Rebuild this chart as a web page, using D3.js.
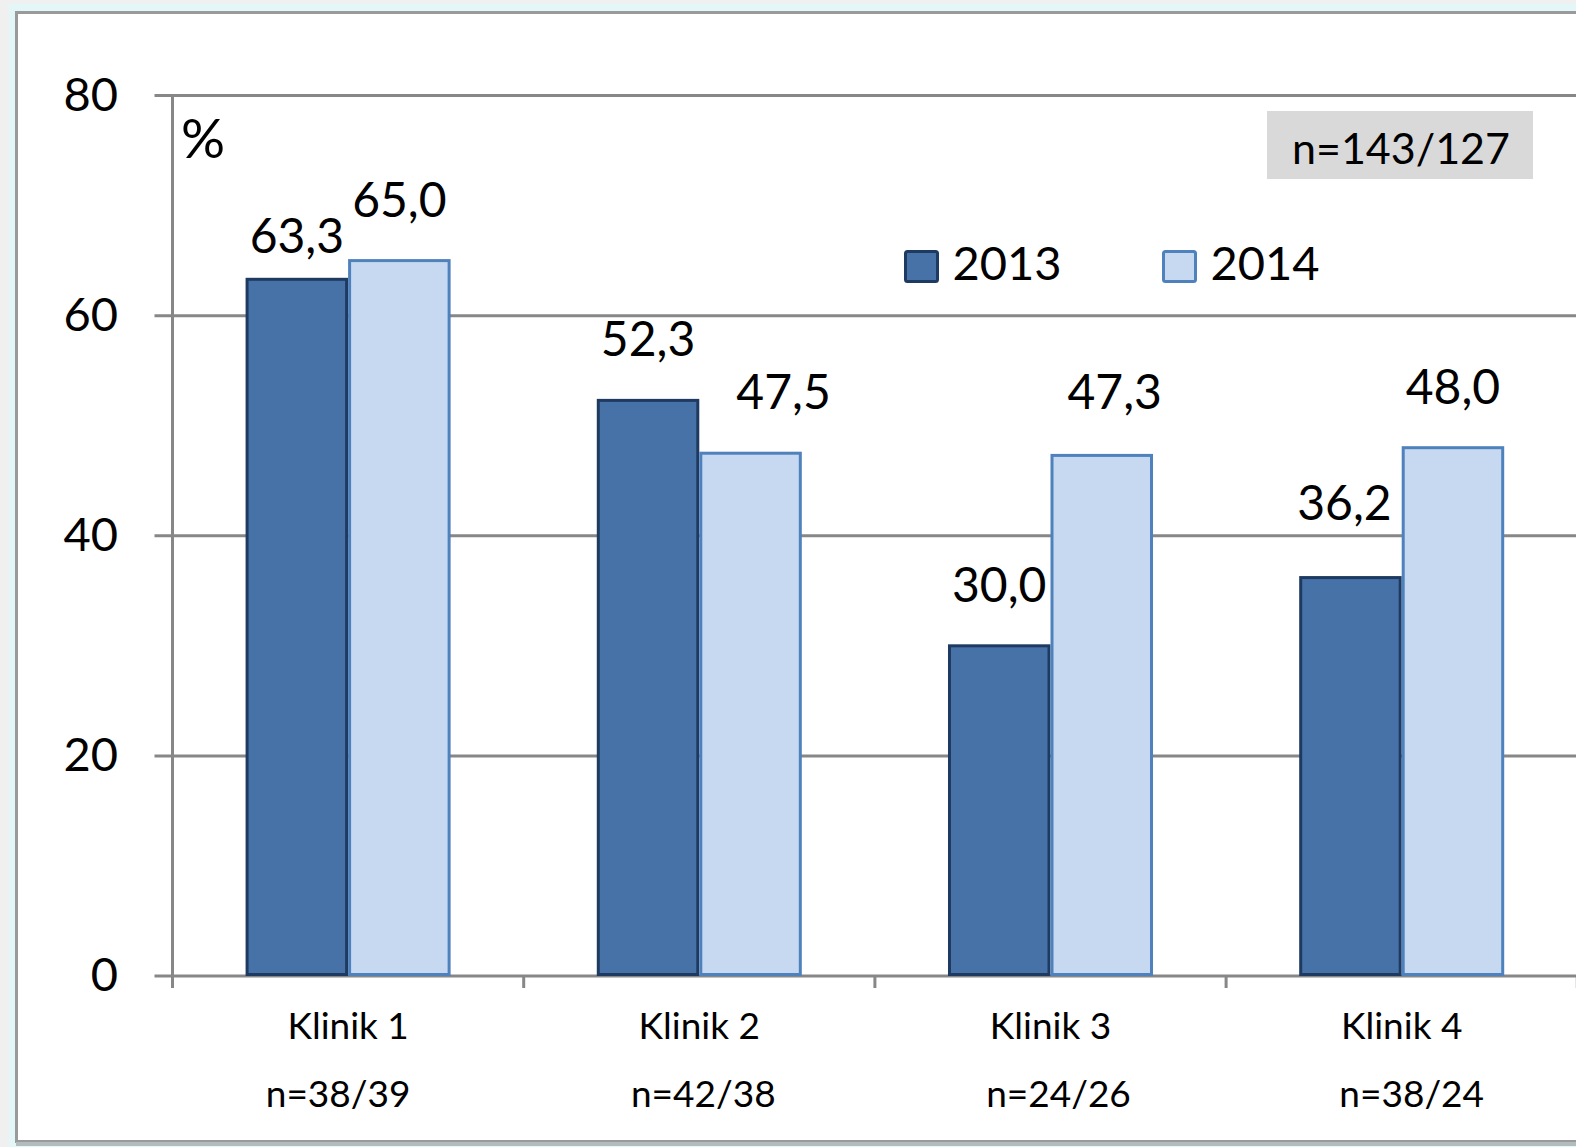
<!DOCTYPE html>
<html>
<head>
<meta charset="utf-8">
<script src="https://cdn.jsdelivr.net/npm/d3@7"></script>
<style>
  body { margin: 0; background: #f0f0f0; overflow: hidden; }
  text { font-family: Lato, "Open Sans", sans-serif; fill: #000; }
</style>
</head>
<body>
<div id="chart"></div>
<script>
// data
const clinics = ["Klinik 1", "Klinik 2", "Klinik 3", "Klinik 4"];
const clinicN = ["n=38/39", "n=42/38", "n=24/26", "n=38/24"];
const years = ["2013", "2014"];
const values2013 = [63.3, 52.3, 30.0, 36.2];
const values2014 = [65.0, 47.5, 47.3, 48.0];
const yTicks = [0, 20, 40, 60, 80];
const totalN = "n=143/127";

// labels that were moved by hand in the original chart: [dx, dy]
const nudge2013 = [[0, 18], [0, 0], [0, 0], [-6, -14]];
const nudge2014 = [[0, 0], [33, 0], [13, -2], [0, 0]];
const nudgeN = [-10, 4, 8, 10];

const width = 1576, height = 1147;
const axisX = 172.5, step = 351.2;

let svg = d3.select("#chart")
    .append("svg")
    .attr("width", width)
    .attr("height", height);

// frame round the chart area
svg.append("rect")
    .attr("x", 9).attr("y", 4)
    .attr("width", width).attr("height", height)
    .style("fill", "#e4f7f8");
svg.append("rect")
    .attr("x", 16.5).attr("y", 12.5)
    .attr("width", width).attr("height", 1129)
    .style("fill", "#fff")
    .style("stroke", "#9a9a9a")
    .style("stroke-width", 3);
svg.append("line")
    .attr("x1", 16).attr("x2", width)
    .attr("y1", 1144).attr("y2", 1144)
    .style("stroke", "#b2bcbc")
    .style("stroke-width", 4);

let y = d3.scaleLinear()
    .domain([0, 80])
    .range([976, 95.5]);

let x = d3.scaleBand()
    .domain(clinics)
    .range([axisX, axisX + step * clinics.length]);

let xSub = d3.scaleBand()
    .domain(years)
    .range([0, x.bandwidth()])
    .paddingOuter(0.713)
    .paddingInner(0);

// gridlines
svg.append("g")
    .selectAll("line")
    .data(yTicks)
    .enter()
    .append("line")
        .attr("x1", axisX - 18)
        .attr("x2", width)
        .attr("y1", d => y(d))
        .attr("y2", d => y(d))
        .style("stroke", "#878787")
        .style("stroke-width", 3);

// y axis line
svg.append("line")
    .attr("x1", axisX).attr("x2", axisX)
    .attr("y1", y(80) - 1.5).attr("y2", y(0) + 12)
    .style("stroke", "#878787")
    .style("stroke-width", 3);

// y tick labels
svg.append("g")
    .selectAll("text")
    .data(yTicks)
    .enter()
    .append("text")
        .attr("x", 118)
        .attr("y", d => y(d) + 15)
        .style("text-anchor", "end")
        .style("font-size", "47px")
        .text(d => d);

// category ticks
svg.append("g")
    .selectAll("line")
    .data(clinics.concat(["end"]))
    .enter()
    .append("line")
        .attr("x1", (d, i) => axisX + i * x.step())
        .attr("x2", (d, i) => axisX + i * x.step())
        .attr("y1", y(0))
        .attr("y2", y(0) + 12)
        .style("stroke", "#878787")
        .style("stroke-width", 3);

// category labels
svg.append("g")
    .selectAll("text")
    .data(clinics)
    .enter()
    .append("text")
        .attr("x", d => x(d) + x.bandwidth() / 2)
        .attr("y", 1039)
        .style("text-anchor", "middle")
        .style("font-size", "37px")
        .text(d => d);

svg.append("g")
    .selectAll("text")
    .data(clinicN)
    .enter()
    .append("text")
        .attr("x", (d, i) => x(clinics[i]) + x.bandwidth() / 2 + nudgeN[i])
        .attr("y", 1107)
        .style("text-anchor", "middle")
        .style("font-size", "37px")
        .text(d => d);

// bars
const series = [
    {year: "2013", values: values2013, nudge: nudge2013, fill: "#4672a7", stroke: "#1f3a60"},
    {year: "2014", values: values2014, nudge: nudge2014, fill: "#c6d9f0", stroke: "#4f81bd"}
];

series.forEach(s => {
    svg.append("g")
        .selectAll("rect")
        .data(s.values)
        .enter()
        .append("rect")
            .attr("x", (d, i) => x(clinics[i]) + xSub(s.year) + 1.5)
            .attr("y", d => y(d))
            .attr("width", xSub.bandwidth() - 3)
            .attr("height", d => y(0) - y(d) - 1.5)
            .style("fill", s.fill)
            .style("stroke", s.stroke)
            .style("stroke-width", 3);
});

// value labels
series.forEach(s => {
    svg.append("g")
        .selectAll("text")
        .data(s.values)
        .enter()
        .append("text")
            .attr("x", (d, i) => x(clinics[i]) + xSub(s.year) + xSub.bandwidth() / 2 + s.nudge[i][0])
            .attr("y", (d, i) => y(d) - 44 + s.nudge[i][1])
            .style("text-anchor", "middle")
            .style("font-size", "48px")
            .text(d => d.toFixed(1).replace(".", ","));
});

// percent sign
svg.append("text")
    .attr("x", 181)
    .attr("y", 158)
    .style("font-size", "55px")
    .text("%");

// legend
series.forEach((s, i) => {
    let lx = 905.5 + i * 258;
    svg.append("rect")
        .attr("x", lx).attr("y", 251.5)
        .attr("width", 32).attr("height", 30)
        .attr("rx", 2)
        .style("fill", s.fill)
        .style("stroke", s.stroke)
        .style("stroke-width", 3);
    svg.append("text")
        .attr("x", lx + 47)
        .attr("y", 280)
        .style("font-size", "47px")
        .text(s.year);
});

// total n box
svg.append("rect")
    .attr("x", 1267).attr("y", 111)
    .attr("width", 266).attr("height", 68)
    .style("fill", "#d9d9d9");
svg.append("text")
    .attr("x", 1401)
    .attr("y", 164)
    .style("text-anchor", "middle")
    .style("font-size", "43px")
    .text(totalN);
</script>
</body>
</html>
